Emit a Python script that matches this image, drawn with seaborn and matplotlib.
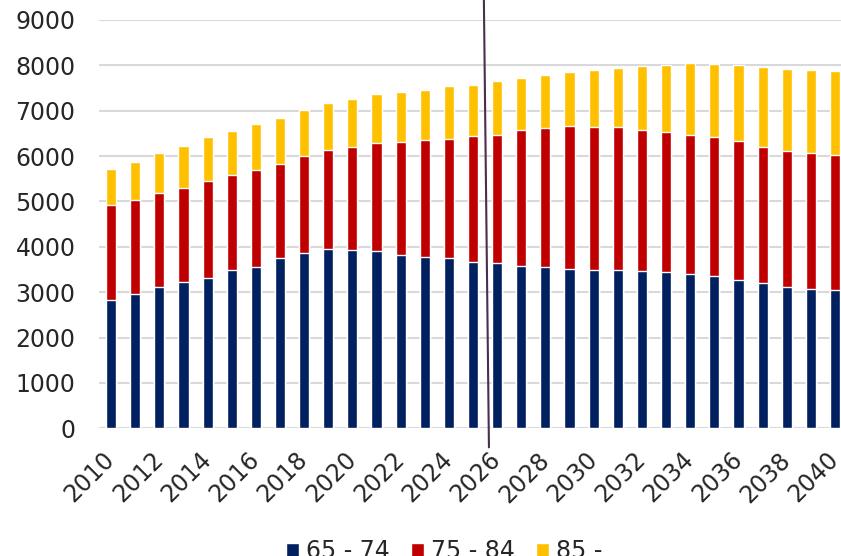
import pandas as pd
import matplotlib.pyplot as plt
import seaborn as sns
from matplotlib.patches import Patch

# data
years = list(range(2010, 2041))
age_65_74 = [2830, 2950, 3105, 3215, 3305, 3480, 3555, 3755, 3855, 3950,
             3920, 3900, 3820, 3780, 3745, 3660, 3642, 3570, 3547, 3510,
             3488, 3488, 3473, 3444, 3400, 3356, 3274, 3193, 3113, 3076, 3038]
age_75_84 = [2100, 2090, 2090, 2085, 2140, 2098, 2133, 2081, 2142, 2180,
             2276, 2384, 2487, 2564, 2636, 2780, 2827, 3001, 3069, 3158,
             3158, 3150, 3107, 3088, 3076, 3054, 3048, 3003, 3003, 2996, 2981]
age_85 = [795, 832, 884, 926, 965, 971, 1009, 1009, 1009, 1030,
          1068, 1082, 1104, 1104, 1155, 1120, 1177, 1141, 1170, 1177,
          1243, 1302, 1413, 1470, 1568, 1627, 1678, 1766, 1795, 1832, 1863]
labels = ["65 - 74", "75 - 84", "85 -"]
colors = ["#002060", "#C00000", "#FFC000"]

df = pd.DataFrame({"year": [str(y) for y in years],
                   "a": age_65_74, "b": age_75_84, "c": age_85})
df["ab"] = df["a"] + df["b"]
df["abc"] = df["ab"] + df["c"]

sns.set_style("white")
plt.rcParams["font.family"] = ["DejaVu Sans"]

fig = plt.figure(figsize=(8.41, 5.56), dpi=100)
ax = fig.add_axes([99 / 841, (556 - 428.3) / 556, 1 - 99 / 841, 408.3 / 556])

# stacked bars: draw totals first, then overlay lower parts
sns.barplot(data=df, x="year", y="abc", color=colors[2], width=0.42,
            saturation=1, ax=ax, zorder=3)
sns.barplot(data=df, x="year", y="ab", color=colors[1], width=0.42,
            saturation=1, ax=ax, zorder=3)
sns.barplot(data=df, x="year", y="a", color=colors[0], width=0.42,
            saturation=1, ax=ax, zorder=3)

ax.set_ylim(0, 9000)
ax.set_xlim(-0.5, 30.25)
ax.set_yticks(range(0, 9001, 1000))
ax.yaxis.grid(True, color="#d9d9d9", linewidth=1.5, zorder=0)
ax.set_axisbelow(True)
for s in ax.spines.values():
    s.set_visible(False)
ax.set_xlabel("")
ax.set_ylabel("")

ax.set_xticks(range(0, 31, 2))
ax.set_xticklabels([str(y) for y in years[::2]], rotation=45, ha="right",
                   rotation_mode="anchor", va="center")
ax.tick_params(axis="x", length=0, pad=20, labelsize=17, labelcolor="#262626")
ax.tick_params(axis="y", length=0, pad=17, labelsize=17, labelcolor="#262626")

# divider line between 2025 and 2026
ax.plot([15.45, 15.66], [9460, -420], color="#4B2D4F", linewidth=1.5,
        clip_on=False, zorder=5)

handles = [Patch(facecolor=c, label=l) for c, l in zip(colors, labels)]
fig.legend(handles=handles, loc="center", bbox_to_anchor=(444 / 841, 1 - 551 / 556),
           ncol=3, frameon=False, fontsize=17, handlelength=0.55,
           handleheight=0.55, handletextpad=0.3, columnspacing=0.9,
           labelcolor="#262626")

fig.savefig("out.png", dpi=100)
